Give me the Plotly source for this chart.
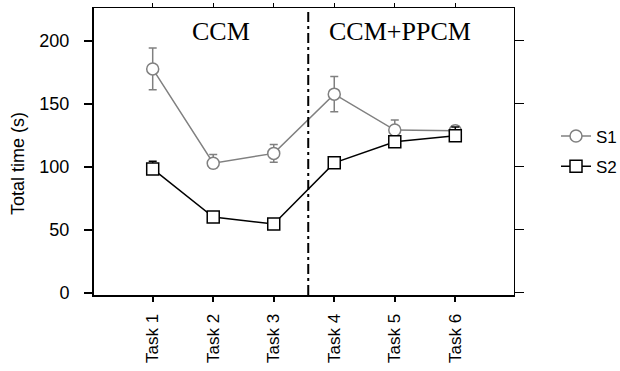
import plotly.graph_objects as go

tasks = [1, 2, 3, 4, 5, 6]
tick_labels = ["Task 1", "Task 2", "Task 3", "Task 4", "Task 5", "Task 6"]
s1_values = [177.5, 102.7, 110.5, 157.5, 129.0, 128.5]
s1_err_up = [16.5, 7.0, 7.0, 14.0, 8.0, 4.0]
s1_err_down = [16.5, 4.0, 7.0, 14.0, 8.0, 4.0]
s2_values = [98.2, 60.0, 54.5, 103.0, 119.7, 124.4]
s2_err_up = [6.0, 3.0, 3.0, 3.0, 3.0, 7.0]
s2_err_down = [3.0, 3.0, 3.0, 3.0, 3.0, 3.0]
y_ticks = [0, 50, 100, 150, 200]
phase_boundary = 3.57
phase_labels = ["CCM", "CCM+PPCM"]
phase_label_x = [2.13, 5.08]
phase_label_y = [207.5, 207.5]

XR = [0.03, 6.97]
YR = [-1.8, 225.8]
GRAY = "#808080"
FONT = "Liberation Sans, Arial, sans-serif"

fig = go.Figure()

fig.add_trace(go.Scatter(
    x=tasks, y=s1_values, name="S1", mode="lines+markers",
    line=dict(color=GRAY, width=1.5),
    marker=dict(symbol="circle", size=12, color="white", line=dict(color=GRAY, width=1.5)),
    error_y=dict(type="data", symmetric=False, array=s1_err_up, arrayminus=s1_err_down,
                 color=GRAY, thickness=1.5, width=4),
    legendgroup="s1",
))
fig.add_trace(go.Scatter(
    x=tasks, y=s2_values, name="S2", mode="lines+markers",
    line=dict(color="black", width=1.5),
    marker=dict(symbol="square", size=12, color="white", line=dict(color="black", width=1.5)),
    error_y=dict(type="data", symmetric=False, array=s2_err_up, arrayminus=s2_err_down,
                 color="black", thickness=1.5, width=4),
    legendgroup="s2",
))
# invisible trace to anchor the top/right mirror axes
fig.add_trace(go.Scatter(
    x=[tasks[0]], y=[y_ticks[0]], xaxis="x2", yaxis="y2", mode="markers",
    marker=dict(opacity=0), showlegend=False, hoverinfo="skip",
))

fig.add_shape(type="line", xref="x", yref="paper", x0=phase_boundary, x1=phase_boundary,
              y0=0, y1=1, line=dict(color="black", width=2, dash="10px,4px,3px,4px"))

for txt, tx, ty in zip(phase_labels, phase_label_x, phase_label_y):
    fig.add_annotation(x=tx, y=ty, xref="x", yref="y", text=txt, showarrow=False,
                       font=dict(family="Liberation Serif, Times New Roman, serif", size=26, color="black"))

fig.add_annotation(x=-0.181, y=0.46, xref="paper", yref="paper", text="Total time (s)",
                   xanchor="center", yanchor="middle",
                   textangle=-90, showarrow=False, font=dict(family=FONT, size=18, color="black"))

fig.update_layout(
    width=620, height=371,
    margin=dict(l=94, r=106, t=8, b=76, autoexpand=False),
    paper_bgcolor="white", plot_bgcolor="white",
    font=dict(family=FONT, size=17, color="black"),
    showlegend=True,
    legend=dict(x=1.1, xanchor="left", y=0.615, yanchor="top", font=dict(size=17),
                tracegroupgap=5, bgcolor="rgba(0,0,0,0)", traceorder="grouped"),
    xaxis=dict(range=XR, tickvals=tasks, ticktext=tick_labels, tickangle=-90, automargin=False,
               ticklabelstandoff=5,
               showgrid=False, zeroline=False, showline=True, linecolor="black", linewidth=2,
               ticks="outside", ticklen=5, tickwidth=1.5, tickcolor="black"),
    yaxis=dict(range=YR, tickvals=y_ticks, showgrid=False, zeroline=False, automargin=False,
               ticklabelstandoff=11, tickfont=dict(size=18),
               showline=True, linecolor="black", linewidth=2,
               ticks="outside", ticklen=8, tickwidth=1.5, tickcolor="black"),
    xaxis2=dict(range=XR, overlaying="x", side="top", tickvals=tasks, showticklabels=False,
                automargin=False,
                showgrid=False, zeroline=False, showline=True, linecolor="black", linewidth=1,
                ticks="outside", ticklen=4, tickwidth=1, tickcolor="black"),
    yaxis2=dict(range=YR, overlaying="y", side="right", tickvals=y_ticks, showticklabels=False,
                automargin=False,
                showgrid=False, zeroline=False, showline=True, linecolor="black", linewidth=1,
                ticks="outside", ticklen=9, tickwidth=1, tickcolor="black"),
)

fig.write_html("out.html", config={"displayModeBar": False},
               post_script="document.body.style.margin='0';document.body.style.overflow='hidden';")
